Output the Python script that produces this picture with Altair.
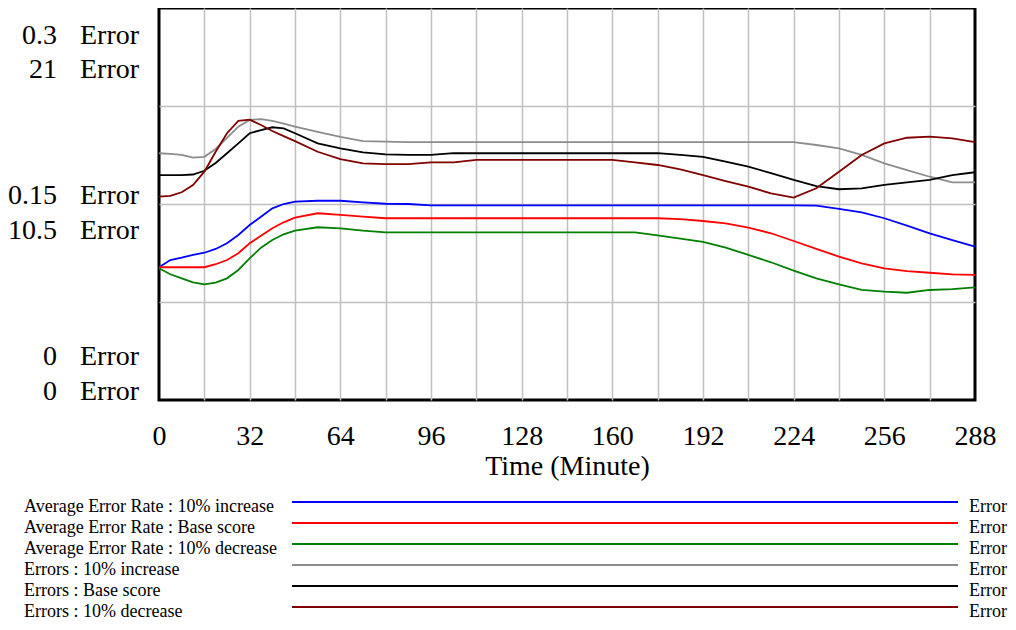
import altair as alt
import pandas as pd

FONT = "Liberation Serif"

time = [0, 4, 8, 12, 16, 20, 24, 28, 32, 36, 40, 44, 48, 56, 64, 72, 80, 88, 96,
        104, 112, 120, 128, 136, 144, 152, 160, 168, 176, 184, 192, 200, 208, 216,
        224, 232, 240, 248, 256, 264, 272, 280, 288]

aer_increase = [0.1016, 0.1071, 0.1089, 0.1110, 0.1127, 0.1156, 0.1199, 0.1263, 0.1339,
                0.1403, 0.1467, 0.1500, 0.1518, 0.1525, 0.1525, 0.1513, 0.1502, 0.1500,
                0.1490, 0.1490, 0.1490, 0.1490, 0.1490, 0.1490, 0.1490, 0.1490, 0.1490,
                0.1490, 0.1490, 0.1490, 0.1490, 0.1490, 0.1490, 0.1490, 0.1490, 0.1487,
                0.1462, 0.1436, 0.1391, 0.1334, 0.1276, 0.1224, 0.1173]

aer_base = [0.1016, 0.1016, 0.1016, 0.1016, 0.1016, 0.1039, 0.1071, 0.1123, 0.1199,
            0.1257, 0.1314, 0.1360, 0.1395, 0.1429, 0.1416, 0.1403, 0.1391, 0.1391,
            0.1391, 0.1391, 0.1391, 0.1391, 0.1391, 0.1391, 0.1391, 0.1391, 0.1391,
            0.1391, 0.1391, 0.1385, 0.1370, 0.1352, 0.1319, 0.1276, 0.1217, 0.1156,
            0.1097, 0.1046, 0.1008, 0.0987, 0.0974, 0.0962, 0.0957]

aer_decrease = [0.1008, 0.0962, 0.0931, 0.0901, 0.0885, 0.0898, 0.0931, 0.0995, 0.1084,
                0.1166, 0.1224, 0.1268, 0.1296, 0.1322, 0.1314, 0.1296, 0.1283, 0.1283,
                0.1283, 0.1283, 0.1283, 0.1283, 0.1283, 0.1283, 0.1283, 0.1283, 0.1283,
                0.1283, 0.1260, 0.1235, 0.1211, 0.1166, 0.1110, 0.1054, 0.0990, 0.0931,
                0.0885, 0.0842, 0.0829, 0.0821, 0.0842, 0.0849, 0.0862]

err_increase = [13.22, 13.18, 13.13, 12.98, 13.03, 13.45, 14.04, 14.64, 15.00, 15.05,
                14.95, 14.80, 14.64, 14.37, 14.10, 13.87, 13.84, 13.81, 13.81, 13.81,
                13.81, 13.81, 13.81, 13.81, 13.81, 13.81, 13.81, 13.81, 13.81, 13.81,
                13.81, 13.81, 13.81, 13.81, 13.81, 13.66, 13.48, 13.13, 12.68, 12.32,
                11.96, 11.66, 11.66]

err_base = [12.05, 12.05, 12.05, 12.08, 12.28, 12.70, 13.22, 13.75, 14.29, 14.46,
            14.61, 14.55, 14.29, 13.75, 13.48, 13.27, 13.16, 13.13, 13.13, 13.22,
            13.22, 13.22, 13.22, 13.22, 13.22, 13.22, 13.22, 13.22, 13.22, 13.13,
            13.03, 12.77, 12.50, 12.15, 11.79, 11.46, 11.29, 11.34, 11.52, 11.66,
            11.79, 12.05, 12.20]

err_decrease = [10.89, 10.94, 11.13, 11.52, 12.23, 13.30, 14.29, 14.95, 15.02, 14.73,
                14.41, 14.14, 13.87, 13.30, 12.91, 12.68, 12.64, 12.64, 12.73, 12.73,
                12.86, 12.86, 12.86, 12.86, 12.86, 12.86, 12.86, 12.73, 12.59, 12.35,
                12.05, 11.73, 11.43, 11.07, 10.84, 11.34, 12.23, 13.13, 13.75, 14.05,
                14.11, 14.02, 13.81]

series_names = [
    "Average Error Rate : 10% increase",
    "Average Error Rate : Base score",
    "Average Error Rate : 10% decrease",
    "Errors : 10% increase",
    "Errors : Base score",
    "Errors : 10% decrease",
]
series_colors = ["#0000ff", "#ff0000", "#008000", "#8c8c8c", "#000000", "#800000"]
series_values = [aer_increase, aer_base, aer_decrease, err_increase, err_base, err_decrease]

x_ticks = list(range(0, 289, 16))
y_grid = [0.075, 0.15, 0.225]
left_numbers = ["0.3", "21", "0.15", "10.5", "0", "0"]
left_units = ["Error"] * 6
left_label_pos = [28, 62, 188, 223, 349, 384]

rows = []
for name, vals in zip(series_names, series_values):
    for t, v in zip(time, vals):
        rows.append({"time": t, "value": v, "series": name})
df = pd.DataFrame(rows)

df_leg = pd.DataFrame({"series": series_names, "row": list(range(6)), "unit": ["Error"] * 6})
df_lab = pd.DataFrame({"num": left_numbers, "unit": left_units, "ypix": left_label_pos})

color = alt.Color("series:N", scale=alt.Scale(domain=series_names, range=series_colors), legend=None)

x_enc = alt.X(
    "time:Q",
    scale=alt.Scale(domain=[0, 288], nice=False, zero=False),
    axis=alt.Axis(
        values=x_ticks,
        labelExpr="datum.value % 32 == 0 ? datum.label : ''",
        grid=True, gridColor="#c0c0c0", gridWidth=1.5,
        gridOpacity={"condition": {"test": "datum.value == 0 || datum.value == 288", "value": 0}, "value": 1},
        ticks=False, domain=False,
        labelFont=FONT, labelFontSize=28, labelColor="black", labelPadding=22,
        labelFlush=False, labelOverlap=False,
        title="Time (Minute)", titleFont=FONT, titleFontSize=28,
        titleFontWeight="normal", titleColor="black", titlePadding=2,
    ),
)

aer_layer = alt.Chart(df).transform_filter(
    alt.FieldOneOfPredicate(field="series", oneOf=series_names[:3])
).mark_line(strokeWidth=1.8).encode(
    x=x_enc,
    y=alt.Y("value:Q", scale=alt.Scale(domain=[0, 0.3], nice=False, zero=False),
            axis=alt.Axis(values=y_grid, labels=False, ticks=False,
                          domain=False, grid=True, gridColor="#c0c0c0", gridWidth=1.5,
                          title=None)),
    color=color,
)

err_layer = alt.Chart(df).transform_filter(
    alt.FieldOneOfPredicate(field="series", oneOf=series_names[3:])
).mark_line(strokeWidth=1.8).encode(
    x=x_enc,
    y=alt.Y("value:Q", scale=alt.Scale(domain=[0, 21], nice=False, zero=False), axis=None),
    color=color,
)

leg_y = alt.Y("row:Q", scale=alt.Scale(domain=[0, 5], range=[494, 599]), axis=None)

leg_rules = alt.Chart(df_leg).mark_rule(strokeWidth=2).encode(
    x=alt.value(133), x2=alt.value(799), y=leg_y, color=color,
)
leg_text = alt.Chart(df_leg).mark_text(
    align="left", baseline="middle", font=FONT, fontSize=18, dy=5, color="black"
).encode(x=alt.value(-135), y=leg_y, text="series:N")
leg_unit = alt.Chart(df_leg).mark_text(
    align="right", baseline="middle", font=FONT, fontSize=18, dy=5, color="black"
).encode(x=alt.value(848), y=leg_y, text="unit:N")

lab_y = alt.Y("ypix:Q", scale=None, axis=None)
lab_num = alt.Chart(df_lab).mark_text(
    align="right", baseline="middle", font=FONT, fontSize=28, color="black"
).encode(x=alt.value(-102), y=lab_y, text="num:N")
lab_unit = alt.Chart(df_lab).mark_text(
    align="left", baseline="middle", font=FONT, fontSize=28, color="black"
).encode(x=alt.value(-79), y=lab_y, text="unit:N")

chart = alt.layer(
    aer_layer, err_layer, leg_rules, leg_text, leg_unit, lab_num, lab_unit
).resolve_scale(y="independent").properties(
    width=816, height=392,
    padding={"left": 151, "top": 0, "right": 33, "bottom": 222},
    autosize=alt.AutoSizeParams(type="none"),
    background="white",
).configure_view(stroke="black", strokeWidth=3)

chart.save("out.html", embed_options={"renderer": "svg", "actions": False})
